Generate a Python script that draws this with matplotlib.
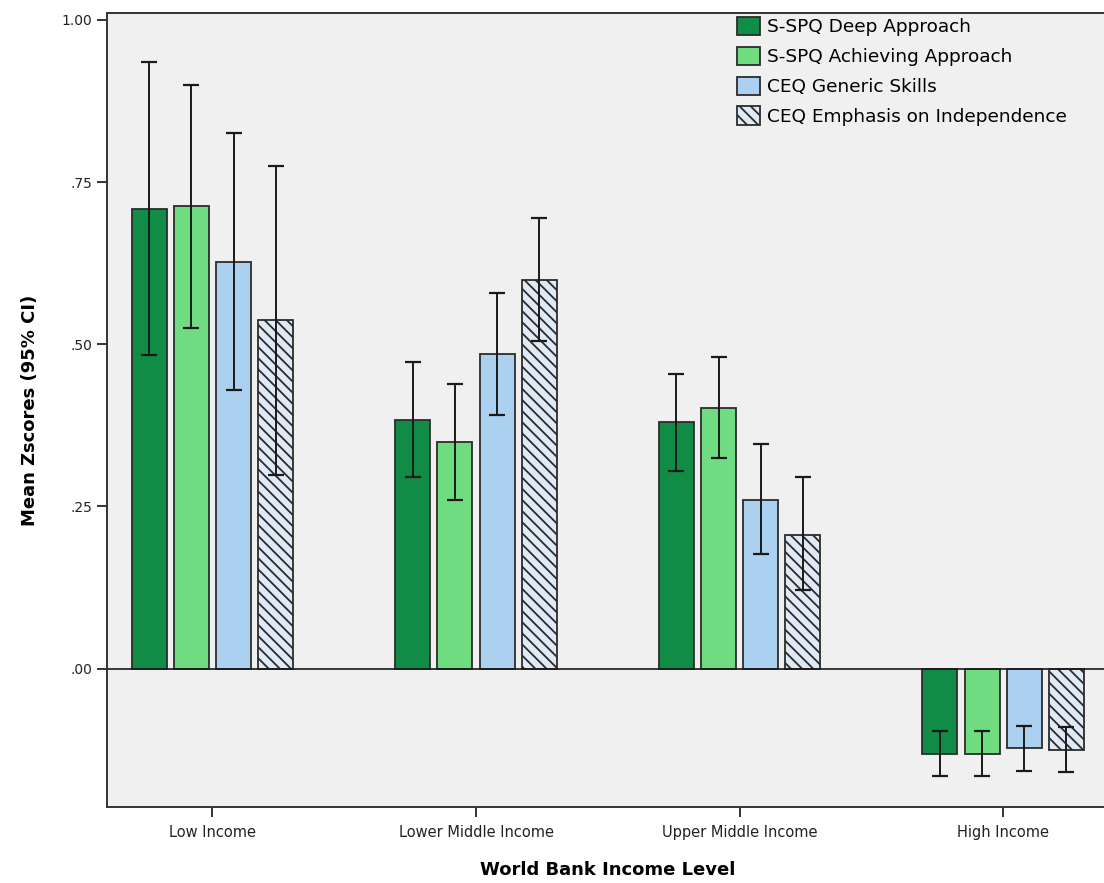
import matplotlib
matplotlib.use('Agg')
import matplotlib.pyplot as plt
import numpy as np

income_levels = ['Low Income', 'Lower Middle Income', 'Upper Middle Income', 'High Income']
series_names = ['S-SPQ Deep Approach', 'S-SPQ Achieving Approach',
                'CEQ Generic Skills', 'CEQ Emphasis on Independence']

# mean z-scores per income level
deep_mean = [0.709, 0.384, 0.380, -0.131]
achieving_mean = [0.713, 0.349, 0.402, -0.131]
generic_mean = [0.627, 0.485, 0.260, -0.122]
independence_mean = [0.537, 0.599, 0.206, -0.125]

# 95% CI bounds
deep_low = [0.483, 0.295, 0.304, -0.166]
deep_high = [0.935, 0.473, 0.454, -0.096]
achieving_low = [0.525, 0.260, 0.324, -0.166]
achieving_high = [0.900, 0.439, 0.480, -0.096]
generic_low = [0.429, 0.391, 0.176, -0.157]
generic_high = [0.825, 0.579, 0.347, -0.088]
independence_low = [0.299, 0.505, 0.121, -0.159]
independence_high = [0.775, 0.694, 0.296, -0.090]

plt.rcParams['hatch.linewidth'] = 1.3


def draw_bars(ax):
    means = [deep_mean, achieving_mean, generic_mean, independence_mean]
    lows = [deep_low, achieving_low, generic_low, independence_low]
    highs = [deep_high, achieving_high, generic_high, independence_high]
    fills = ['#118c47', '#6fdc82', '#acd0ef', '#dfeaf6']
    hatches = [None, None, None, '\\\\\\']
    offsets = [-0.24, -0.08, 0.08, 0.24]
    x = np.arange(len(income_levels))

    for i in range(4):
        m = np.array(means[i])
        lo = m - np.array(lows[i])
        hi = np.array(highs[i]) - m
        ax.bar(x + offsets[i], m, width=0.133, color=fills[i], edgecolor='#2b2b2b',
               linewidth=1.3, hatch=hatches[i], label=series_names[i], zorder=2)
        ax.errorbar(x + offsets[i], m, yerr=[lo, hi], fmt='none', ecolor='#1a1a1a',
                    elinewidth=1.4, capsize=6, capthick=1.6, zorder=3)


fig = plt.figure(figsize=(11.04, 8.83), dpi=100)
ax = fig.add_axes([107 / 1104, 1 - 806.7 / 883, 1001.6 / 1104, (806.7 - 13.3) / 883])
ax.set_facecolor('#f0f0f0')

draw_bars(ax)
ax.axhline(0, color='#1a1a1a', linewidth=1.2, zorder=2.5)

ax.set_xlim(-0.4, 3.4)
ax.set_ylim(-0.2127, 1.010)
ax.set_xticks(np.arange(len(income_levels)))
ax.set_xticklabels(income_levels, fontsize=10.5, color='#222222')
ax.set_yticks([0, 0.25, 0.5, 0.75, 1.0])
ax.set_yticklabels(['.00', '.25', '.50', '.75', '1.00'], fontsize=10, color='#222222')
ax.tick_params(axis='both', direction='out', length=7, width=1.4, color='#333333')
ax.tick_params(axis='x', pad=6)

for side in ['left', 'bottom', 'top']:
    ax.spines[side].set_color('#333333')
    ax.spines[side].set_linewidth(1.4)
ax.spines['right'].set_visible(False)

ax.set_xlabel('World Bank Income Level', fontsize=13, fontweight='bold', labelpad=15)
ax.set_ylabel('Mean Zscores (95% CI)', fontsize=13, fontweight='bold', labelpad=16)

ax.legend(loc='upper left', bbox_to_anchor=(737 / 1104, 1 - 17 / 883),
          bbox_transform=fig.transFigure, frameon=False, fontsize=13.3,
          handlelength=1.25, handleheight=1.15, handletextpad=0.4,
          labelspacing=0.56, borderpad=0, borderaxespad=0)

fig.savefig('out.png', dpi=100)
